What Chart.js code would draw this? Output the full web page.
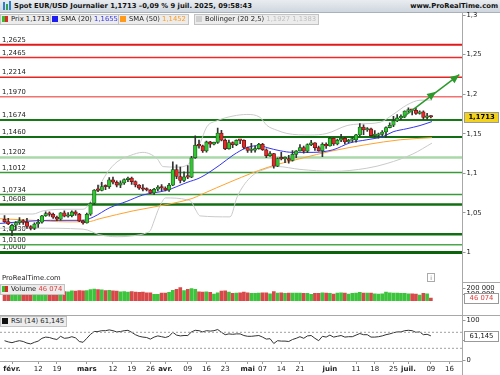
<!DOCTYPE html>
<html>
<head>
<meta charset="utf-8">
<script src="https://cdn.jsdelivr.net/npm/chart.js@4.4.1/dist/chart.umd.min.js"></script>
<style>
body{margin:0;width:500px;height:375px;overflow:hidden;background:#fff;position:relative;font-family:"DejaVu Sans",sans-serif;color:#222}
canvas{position:absolute;left:0}
#hdr{position:absolute;left:0;top:0;width:500px;height:12px;background:linear-gradient(#e9edf1,#cfd6de);border-bottom:1px solid #a9b1ba;font-weight:bold;font-size:6.8px;line-height:12px;color:#111}
#hdr .t{position:absolute;left:14px;top:0}
#hdr .s{position:absolute;right:2px;top:0}
.ico{position:absolute;top:2px;width:2px;background:#2a7fd0}
.lg{position:absolute;height:9px;line-height:9px;padding:0 2px 0 1px;background:#ececec;border:1px solid #c2c2c2;font-size:6.8px;color:#222;white-space:nowrap;z-index:3}
.sw{display:inline-block;width:6px;height:6px;vertical-align:-0.5px;margin-right:3px}
.vl{position:absolute;left:462px;width:1px;background:#a8a8a8;z-index:2}
.hl{position:absolute;height:1px;background:#a8a8a8;z-index:2}
#prt{position:absolute;left:2px;top:274px;font-size:6.8px;color:#222;z-index:3}
#inf{position:absolute;left:427px;top:273px;width:6px;height:7px;border:1px solid #aaa;font-size:6px;line-height:7px;text-align:center;color:#777;z-index:3}
</style>
</head>
<body>
<div id="hdr">
  <div class="ico" style="left:3px;height:8px"></div>
  <div class="ico" style="left:6px;top:4px;height:6px;background:#3aa04a"></div>
  <div class="ico" style="left:9px;top:1px;height:9px"></div>
  <span class="t">Spot EUR/USD Journalier 1,1713 –0,09 % 9 juil. 2025, 09:58:43</span>
  <span class="s">www.ProRealTime.com</span>
</div>
<div class="lg" style="left:0;top:14px"><span class="sw" style="width:3px;background:#2fbf2f;margin-right:0"></span><span class="sw" style="width:3px;background:#e02828"></span>Prix 1,1713</div>
<div class="lg" style="left:50px;top:14px"><span class="sw" style="background:#1c1cf0"></span>SMA (20) <span style="color:#3333ee">1,1655</span></div>
<div class="lg" style="left:118px;top:14px"><span class="sw" style="background:#ff9a1a"></span>SMA (50) <span style="color:#ff9a1a">1,1452</span></div>
<div class="lg" style="left:194px;top:14px"><span class="sw" style="background:#cfcfcf"></span>Bollinger (20 2,5) <span style="color:#c0c0c0">1,1927 1,1383</span></div>
<div id="prt">ProRealTime.com</div>
<div id="inf">i</div>
<div class="lg" style="left:0;top:284px"><span class="sw" style="width:3px;background:#2fbf2f;margin-right:0"></span><span class="sw" style="width:3px;background:#e02828"></span>Volume <span style="color:#e04040">46 074</span></div>
<div class="lg" style="left:0;top:316px"><span class="sw" style="background:#111"></span>RSI (14) 61,145</div>
<div class="vl" style="top:13px;height:362px"></div>
<div class="hl" style="left:462px;width:38px;top:282px"></div>
<div class="hl" style="left:0;width:500px;top:315px"></div>

<canvas id="priceChart" width="500" height="282" style="top:0"></canvas>
<canvas id="volChart" width="500" height="33" style="top:282px"></canvas>
<canvas id="rsiChart" width="500" height="60" style="top:315px"></canvas>

<script>
// trading days, 30 janv. -> 9 juil. 2025
const days = ['01-30','01-31',
  '02-03','02-04','02-05','02-06','02-07','02-10','02-11','02-12','02-13','02-14','02-17','02-18','02-19','02-20','02-21','02-24','02-25','02-26','02-27','02-28',
  '03-03','03-04','03-05','03-06','03-07','03-10','03-11','03-12','03-13','03-14','03-17','03-18','03-19','03-20','03-21','03-24','03-25','03-26','03-27','03-28','03-31',
  '04-01','04-02','04-03','04-04','04-07','04-08','04-09','04-10','04-11','04-14','04-15','04-16','04-17','04-18','04-21','04-22','04-23','04-24','04-25','04-28','04-29','04-30',
  '05-01','05-02','05-05','05-06','05-07','05-08','05-09','05-12','05-13','05-14','05-15','05-16','05-19','05-20','05-21','05-22','05-23','05-26','05-27','05-28','05-29','05-30',
  '06-02','06-03','06-04','06-05','06-06','06-09','06-10','06-11','06-12','06-13','06-16','06-17','06-18','06-19','06-20','06-23','06-24','06-25','06-26','06-27','06-30',
  '07-01','07-02','07-03','07-04','07-07','07-08','07-09'];

const open = [1.0420,1.0391,
  1.0280,1.0345,1.0378,1.0403,1.0381,1.0329,1.0306,1.0361,1.0383,1.0465,1.0492,1.0483,1.0446,1.0421,1.0502,1.0459,1.0465,1.0513,1.0485,1.0398,
  1.0375,1.0484,1.0624,1.0790,1.0785,1.0833,1.0832,1.0918,1.0889,1.0853,1.0880,1.0922,1.0942,1.0897,1.0854,1.0815,1.0800,1.0790,1.0754,1.0800,1.0828,
  1.0816,1.0791,1.0851,1.1049,1.0961,1.0910,1.0958,1.0953,1.1197,1.1357,1.1347,1.1285,1.1398,1.1370,1.1393,1.1511,1.1420,1.1311,1.1390,1.1364,1.1420,1.1418,
  1.1328,1.1290,1.1295,1.1314,1.1369,1.1299,1.1224,1.1250,1.1090,1.1189,1.1183,1.1186,1.1163,1.1241,1.1284,1.1328,1.1281,1.1364,1.1387,1.1325,1.1288,1.1369,
  1.1347,1.1443,1.1373,1.1420,1.1445,1.1397,1.1420,1.1423,1.1487,1.1585,1.1549,1.1562,1.1478,1.1480,1.1494,1.1523,1.1579,1.1609,1.1664,1.1701,1.1719,
  1.1787,1.1803,1.1797,1.1757,1.1778,1.1708,1.1724];
const high = [1.0468,1.0434,
  1.0360,1.0390,1.0442,1.0416,1.0432,1.0340,1.0375,1.0420,1.0470,1.0515,1.0513,1.0500,1.0460,1.0505,1.0528,1.0505,1.0528,1.0530,1.0497,1.0410,
  1.0500,1.0630,1.0797,1.0854,1.0888,1.0855,1.0947,1.0955,1.0905,1.0907,1.0930,1.0955,1.0953,1.0905,1.0860,1.0858,1.0818,1.0800,1.0810,1.0845,1.0858,
  1.0830,1.0875,1.1145,1.1107,1.1080,1.1020,1.1100,1.1215,1.1474,1.1420,1.1358,1.1408,1.1405,1.1395,1.1573,1.1545,1.1437,1.1420,1.1398,1.1425,1.1425,1.1425,
  1.1333,1.1380,1.1344,1.1380,1.1380,1.1310,1.1275,1.1255,1.1196,1.1265,1.1210,1.1227,1.1287,1.1290,1.1365,1.1346,1.1375,1.1419,1.1390,1.1345,1.1385,1.1385,
  1.1455,1.1450,1.1435,1.1495,1.1455,1.1430,1.1450,1.1495,1.1630,1.1614,1.1580,1.1572,1.1540,1.1510,1.1540,1.1590,1.1640,1.1720,1.1745,1.1740,1.1790,
  1.1830,1.1810,1.1830,1.1790,1.1790,1.1760,1.1730];
const low = [1.0381,1.0353,
  1.0212,1.0285,1.0355,1.0357,1.0304,1.0285,1.0290,1.0316,1.0370,1.0458,1.0459,1.0432,1.0402,1.0410,1.0450,1.0448,1.0450,1.0470,1.0390,1.0359,
  1.0370,1.0470,1.0610,1.0768,1.0780,1.0796,1.0810,1.0868,1.0830,1.0820,1.0860,1.0895,1.0860,1.0830,1.0797,1.0780,1.0780,1.0745,1.0733,1.0780,1.0780,
  1.0778,1.0773,1.0845,1.0935,1.0880,1.0895,1.0935,1.0945,1.1190,1.1320,1.1265,1.1270,1.1330,1.1360,1.1380,1.1410,1.1300,1.1306,1.1326,1.1350,1.1375,1.1310,
  1.1266,1.1265,1.1270,1.1305,1.1290,1.1200,1.1215,1.1065,1.1085,1.1170,1.1135,1.1130,1.1155,1.1200,1.1280,1.1255,1.1263,1.1350,1.1290,1.1280,1.1210,1.1315,
  1.1345,1.1355,1.1360,1.1400,1.1373,1.1390,1.1398,1.1395,1.1475,1.1490,1.1530,1.1475,1.1460,1.1445,1.1475,1.1455,1.1575,1.1590,1.1655,1.1680,1.1705,
  1.1765,1.1740,1.1745,1.1750,1.1682,1.1685,1.1700];
const close = [1.0391,1.0362,
  1.0345,1.0378,1.0403,1.0381,1.0329,1.0306,1.0361,1.0383,1.0465,1.0492,1.0483,1.0446,1.0421,1.0502,1.0459,1.0465,1.0513,1.0485,1.0398,1.0375,
  1.0484,1.0624,1.0790,1.0785,1.0833,1.0832,1.0918,1.0889,1.0853,1.0880,1.0922,1.0942,1.0897,1.0854,1.0815,1.0800,1.0790,1.0754,1.0800,1.0828,1.0816,
  1.0791,1.0851,1.1049,1.0961,1.0910,1.0958,1.0953,1.1197,1.1357,1.1347,1.1285,1.1398,1.1370,1.1393,1.1511,1.1420,1.1311,1.1390,1.1364,1.1420,1.1418,1.1328,
  1.1290,1.1295,1.1314,1.1369,1.1299,1.1224,1.1250,1.1090,1.1189,1.1183,1.1186,1.1163,1.1241,1.1284,1.1328,1.1281,1.1364,1.1387,1.1325,1.1288,1.1369,1.1347,
  1.1443,1.1373,1.1420,1.1445,1.1397,1.1420,1.1423,1.1487,1.1585,1.1549,1.1562,1.1478,1.1480,1.1494,1.1523,1.1579,1.1609,1.1664,1.1701,1.1719,1.1787,
  1.1803,1.1797,1.1757,1.1778,1.1708,1.1724,1.1713];

const volume = [150000,160000,
  195000,165000,160000,150000,160000,140000,150000,155000,165000,150000,110000,140000,150000,155000,150000,145000,160000,155000,165000,160000,
  165000,180000,190000,180000,175000,165000,170000,160000,155000,145000,150000,140000,150000,140000,135000,140000,130000,130000,105000,105000,125000,
  125000,135000,170000,185000,212000,165000,185000,195000,185000,145000,140000,145000,135000,110000,130000,155000,160000,140000,120000,125000,130000,140000,
  130000,120000,120000,125000,130000,130000,115000,150000,125000,130000,120000,125000,125000,125000,125000,120000,120000,105000,120000,120000,130000,125000,
  120000,110000,125000,130000,125000,110000,120000,125000,135000,125000,125000,125000,115000,110000,115000,140000,130000,125000,125000,120000,120000,
  115000,115000,110000,95000,120000,115000,46074];

const rsi = [49,46,
  44,47,49,47,43,41,45,48,55,58,57,54,52,60,55,56,59,56,47,45,
  55,65,72,72,74,74,76,74,71,72,74,75,70,64,60,58,57,53,58,61,59,
  57,60,70,63,61,62,62,71,75,74,71,74,73,74,77,70,64,66,65,66,66,62,
  60,60,61,62,58,53,54,42,49,48,48,47,52,55,59,55,61,62,55,49,60,58,
  63,58,60,62,58,59,59,63,67,64,64,58,58,59,61,64,66,69,71,71,74,
  75,74,70,71,64,65,61.145];

// indicator curves (x = trading-day index)
const sma20X = [-1.2,4.1,12.2,21,23.7,28.2,32.7,37,43.4,48.8,52.3,57.6,61.1,64.8,68.3,70.2,73.7,77.1,82.5,87.8,92.4,96.9,101.2,103.9,107.6,111.1,114.3];
const sma20Y = [1.0368,1.0388,1.0407,1.0407,1.0448,1.0568,1.0647,1.0727,1.0787,1.0886,1.0946,1.1107,1.1230,1.1326,1.1353,1.1326,1.1286,1.1266,1.1266,1.1298,1.1386,1.1425,1.1466,1.1526,1.1565,1.1605,1.1655];
const sma50X = [-1.2,7.6,16.7,22.1,25.5,34.4,43.4,50.4,52.3,61.1,70.2,79,87.8,96.9,105.8,114.3];
const sma50Y = [1.0428,1.0407,1.0388,1.0388,1.0428,1.0527,1.0607,1.0687,1.0727,1.0907,1.1074,1.1186,1.1286,1.1365,1.1425,1.1452];
const bbUpX = [-1.2,7.6,10.3,16.7,21,24.7,27.4,30.1,33.6,37,40.8,42.4,46,49,50,51,52.3,54.1,56.8,61.1,64.8,68.3,70.2,72.9,75.5,81.7,86.2,91.6,95.1,100.4,103.9,107.6,111.1,114.3];
const bbUpY = [1.0487,1.0487,1.0527,1.0547,1.0547,1.0787,1.1006,1.1146,1.1226,1.1266,1.1186,1.1086,1.1080,1.1110,1.1170,1.1290,1.1385,1.1589,1.1665,1.1725,1.1745,1.1709,1.1605,1.1545,1.1505,1.1485,1.1505,1.1605,1.1625,1.1646,1.1745,1.1865,1.1925,1.1927];
const bbLoX = [-1.2,7.6,21,25.5,30.1,34.4,38,39,40,41,42,43,48.8,50,51,52.3,60.3,62.2,65.6,70.2,72.9,79,87.8,96.9,102.3,109.2,114.3];
const bbLoY = [1.0308,1.0308,1.0296,1.0224,1.0200,1.0212,1.0250,1.0280,1.0400,1.0530,1.0630,1.0690,1.0667,1.0640,1.0550,1.0463,1.0451,1.0703,1.0943,1.1063,1.1087,1.1051,1.1026,1.1066,1.1126,1.1246,1.1383];

// horizontal levels
const levelPrices = [1.2625,1.2465,1.2214,1.1970,1.1674,1.1460,1.1202,1.1012,1.0734,1.0608,1.0230,1.0100,1.0000];
const levelLabels = ['1,2625','1,2465','1,2214','1,1970','1,1674','1,1460','1,1202','1,1012','1,0734','1,0608','1,0230','1,0100','1,0000'];
const levelStyle = [
  {c:'#e01a1a',w:2},{c:'#ee2a2a',w:1.5},{c:'#e52424',w:1.5},{c:'#f27272',w:1.5},
  {c:'#157a15',w:2},{c:'#126e12',w:2},{c:'#a9d8a9',w:2.5},{c:'#3a9a3a',w:1.5},{c:'#3a9a3a',w:1.5},
  {c:'#126e12',w:2.5},{c:'#126e12',w:2.5},{c:'#4aa84a',w:1.5},{c:'#0b640b',w:3}];

// arrow drawn on the chart (trading-day index / price)
const arrowX = [106.5,115.4,121.6];
const arrowY = [1.1709,1.2032,1.2248];

const priceTicks = [1,1.05,1.1,1.15,1.2,1.25,1.3];
const volTicks = [100000,200000];
const rsiTicks = [0,50,100];
const rsiBands = [70,30];
const xTickPos = [2,9,14,22,29,34,39,43,49,54,59,65,69,74,79,87,94,99,104,108,114,119];
const xTickLabels = ['févr.','12','19','mars','12','19','26','avr.','09','16','23','mai','07','14','21','juin','11','18','25','juil.','09','16'];

const xMin = -1.21, xMax = 122.46;

Chart.defaults.font.family = '"DejaVu Sans"';
Chart.defaults.font.size = 6.8;
Chart.defaults.color = '#222';

function yFit(s) { s.width = 37.5; s.paddingTop = 0; s.paddingBottom = 0; }
function xFit(s) { s.height = 14; s.paddingLeft = 0; s.paddingRight = 0; }
function fr(v) { return String(v).replace('.', ','); }
function thousands(v) { return String(v).replace(/\B(?=(\d{3})+(?!\d))/g, ' '); }

const up = close.map((c, i) => c >= open[i]);

function hiddenX() {
  return {type:'linear', min:xMin, max:xMax, offset:false, display:false, afterFit:xFit};
}
function yAxis(min, max, ticks, fmt) {
  return {
    type:'linear', position:'right', min:min, max:max,
    afterFit: yFit,
    afterBuildTicks: s => { s.ticks = ticks.map(v => ({value:v})); },
    ticks: {padding:1, callback: fmt, color:'#222'},
    grid: {drawOnChartArea:false, drawTicks:true, tickLength:3, color:'#999'},
    border: {display:false}
  };
}
function labelBox(ctx, text, y, bg, fg, bold) {
  ctx.save();
  ctx.fillStyle = bg;
  ctx.strokeStyle = '#999';
  ctx.lineWidth = 1;
  ctx.fillRect(464, Math.round(y) - 5, 35, 11);
  ctx.strokeRect(464.5, Math.round(y) - 4.5, 34, 10);
  ctx.fillStyle = fg;
  ctx.font = (bold ? 'bold ' : '') + '6.8px "DejaVu Sans"';
  ctx.textAlign = 'center';
  ctx.textBaseline = 'middle';
  ctx.fillText(text, 481.5, Math.round(y) + 0.5);
  ctx.restore();
}

const priceOverlay = {
  id: 'priceOverlay',
  beforeDatasetsDraw(chart) {
    const ctx = chart.ctx, y = chart.scales.y;
    ctx.save();
    ctx.font = '6.8px "DejaVu Sans"';
    ctx.fillStyle = '#222';
    ctx.textBaseline = 'bottom';
    levelPrices.forEach((p, k) => {
      ctx.fillText(levelLabels[k], 2, y.getPixelForValue(p) - levelStyle[k].w / 2 - 0.5);
    });
    ctx.restore();
  },
  afterDraw(chart) {
    const ctx = chart.ctx, x = chart.scales.x, y = chart.scales.y;
    const pts = arrowX.map((v, k) => [x.getPixelForValue(v), y.getPixelForValue(arrowY[k])]);
    ctx.save();
    ctx.strokeStyle = '#2b9a2b';
    ctx.fillStyle = '#2b9a2b';
    ctx.lineWidth = 1.5;
    ctx.beginPath();
    ctx.moveTo(pts[0][0], pts[0][1]);
    ctx.lineTo(pts[2][0], pts[2][1]);
    ctx.stroke();
    const a = Math.atan2(pts[2][1] - pts[0][1], pts[2][0] - pts[0][0]);
    [pts[1], pts[2]].forEach(p => {
      ctx.beginPath();
      ctx.moveTo(p[0], p[1]);
      ctx.lineTo(p[0] - 9 * Math.cos(a) + 4 * Math.sin(a), p[1] - 9 * Math.sin(a) - 4 * Math.cos(a));
      ctx.lineTo(p[0] - 9 * Math.cos(a) - 4 * Math.sin(a), p[1] - 9 * Math.sin(a) + 4 * Math.cos(a));
      ctx.closePath();
      ctx.fill();
    });
    ctx.restore();
    labelBox(ctx, fr(close[close.length - 1]), y.getPixelForValue(close[close.length - 1]), '#f3d21c', '#000', true);
  }
};

new Chart(document.getElementById('priceChart'), {
  type: 'line',
  data: {
    datasets: [
      ...levelPrices.map((p, k) => ({
        type:'line', data:[{x:xMin, y:p}, {x:xMax, y:p}],
        borderColor: levelStyle[k].c, borderWidth: levelStyle[k].w, pointRadius:0, order:10
      })),
      {type:'line', data: bbUpX.map((v, k) => ({x:v, y:bbUpY[k]})), borderColor:'#cacaca', borderWidth:1, pointRadius:0, cubicInterpolationMode:'monotone', order:9},
      {type:'line', data: bbLoX.map((v, k) => ({x:v, y:bbLoY[k]})), borderColor:'#cacaca', borderWidth:1, pointRadius:0, cubicInterpolationMode:'monotone', order:9},
      {type:'line', data: sma50X.map((v, k) => ({x:v, y:sma50Y[k]})), borderColor:'#ffa22e', borderWidth:1, pointRadius:0, cubicInterpolationMode:'monotone', order:4},
      {type:'line', data: sma20X.map((v, k) => ({x:v, y:sma20Y[k]})), borderColor:'#3535ee', borderWidth:1, pointRadius:0, cubicInterpolationMode:'monotone', order:3},
      {type:'bar', data: days.map((d, i) => ({x:i, y:[low[i], high[i]]})), backgroundColor:'#333', barThickness:1, grouped:false, order:2},
      {type:'bar', data: days.map((d, i) => ({x:i, y:[open[i], close[i]]})),
        backgroundColor: up.map(u => u ? '#30c830' : '#e42a2a'),
        borderColor: up.map(u => u ? '#1b5c1b' : '#6e1616'),
        borderWidth: 0.8, borderSkipped:false, barThickness:3.6, minBarLength:1.5, grouped:false, order:1}
    ]
  },
  options: {
    responsive:false, animation:false, events:[],
    layout: {padding:{top:14, left:0, right:0, bottom:0}},
    plugins: {legend:{display:false}, tooltip:{enabled:false}},
    scales: {
      x: hiddenX(),
      y: yAxis(0.980479, 1.301437, priceTicks, v => fr(v))
    }
  },
  plugins: [priceOverlay]
});

new Chart(document.getElementById('volChart'), {
  type: 'bar',
  data: {
    datasets: [{
      data: days.map((d, i) => ({x:i, y:volume[i]})),
      backgroundColor: up.map(u => u ? '#3cc43c' : '#d94848'),
      barThickness:3, grouped:false
    }]
  },
  options: {
    responsive:false, animation:false, events:[],
    layout: {padding:0},
    plugins: {legend:{display:false}, tooltip:{enabled:false}},
    scales: {
      x: hiddenX(),
      y: yAxis(0, 300000, volTicks, v => thousands(v))
    }
  },
  plugins: [{
    id:'volBox',
    afterDraw(chart) {
      const v = volume[volume.length - 1];
      labelBox(chart.ctx, thousands(v), chart.scales.y.getPixelForValue(v), '#fff', '#e03a3a', false);
    }
  }]
});

new Chart(document.getElementById('rsiChart'), {
  type: 'line',
  data: {
    datasets: [
      ...rsiBands.map(b => ({data:[{x:xMin, y:b}, {x:xMax, y:b}], borderColor:'#a0a0a0', borderWidth:1, borderDash:[2,2], pointRadius:0})),
      {data: days.map((d, i) => ({x:i, y:rsi[i]})), borderColor:'#333', borderWidth:1, pointRadius:0}
    ]
  },
  options: {
    responsive:false, animation:false, events:[],
    layout: {padding:0},
    plugins: {legend:{display:false}, tooltip:{enabled:false}},
    scales: {
      x: {
        type:'linear', min:xMin, max:xMax, offset:false, position:'bottom',
        afterFit: xFit,
        afterBuildTicks: s => { s.ticks = xTickPos.map(v => ({value:v})); },
        ticks: {
          autoSkip:false, maxRotation:0, minRotation:0, padding:1, color:'#222',
          callback: v => xTickLabels[xTickPos.indexOf(v)],
          font: c => ({family:'"DejaVu Sans"', size:7, weight: (c.tick && /[a-z]/.test(c.tick.label)) ? 'bold' : 'normal'})
        },
        grid: {drawOnChartArea:false, drawTicks:true, tickLength:3, color:'#999'},
        border: {display:true, color:'#aaa'}
      },
      y: yAxis(-1.75, 113.25, rsiTicks, v => String(v))
    }
  },
  plugins: [{
    id:'rsiBox',
    afterDraw(chart) {
      const v = rsi[rsi.length - 1];
      labelBox(chart.ctx, fr(v), chart.scales.y.getPixelForValue(v), '#fff', '#111', false);
    }
  }]
});
</script>
</body>
</html>
